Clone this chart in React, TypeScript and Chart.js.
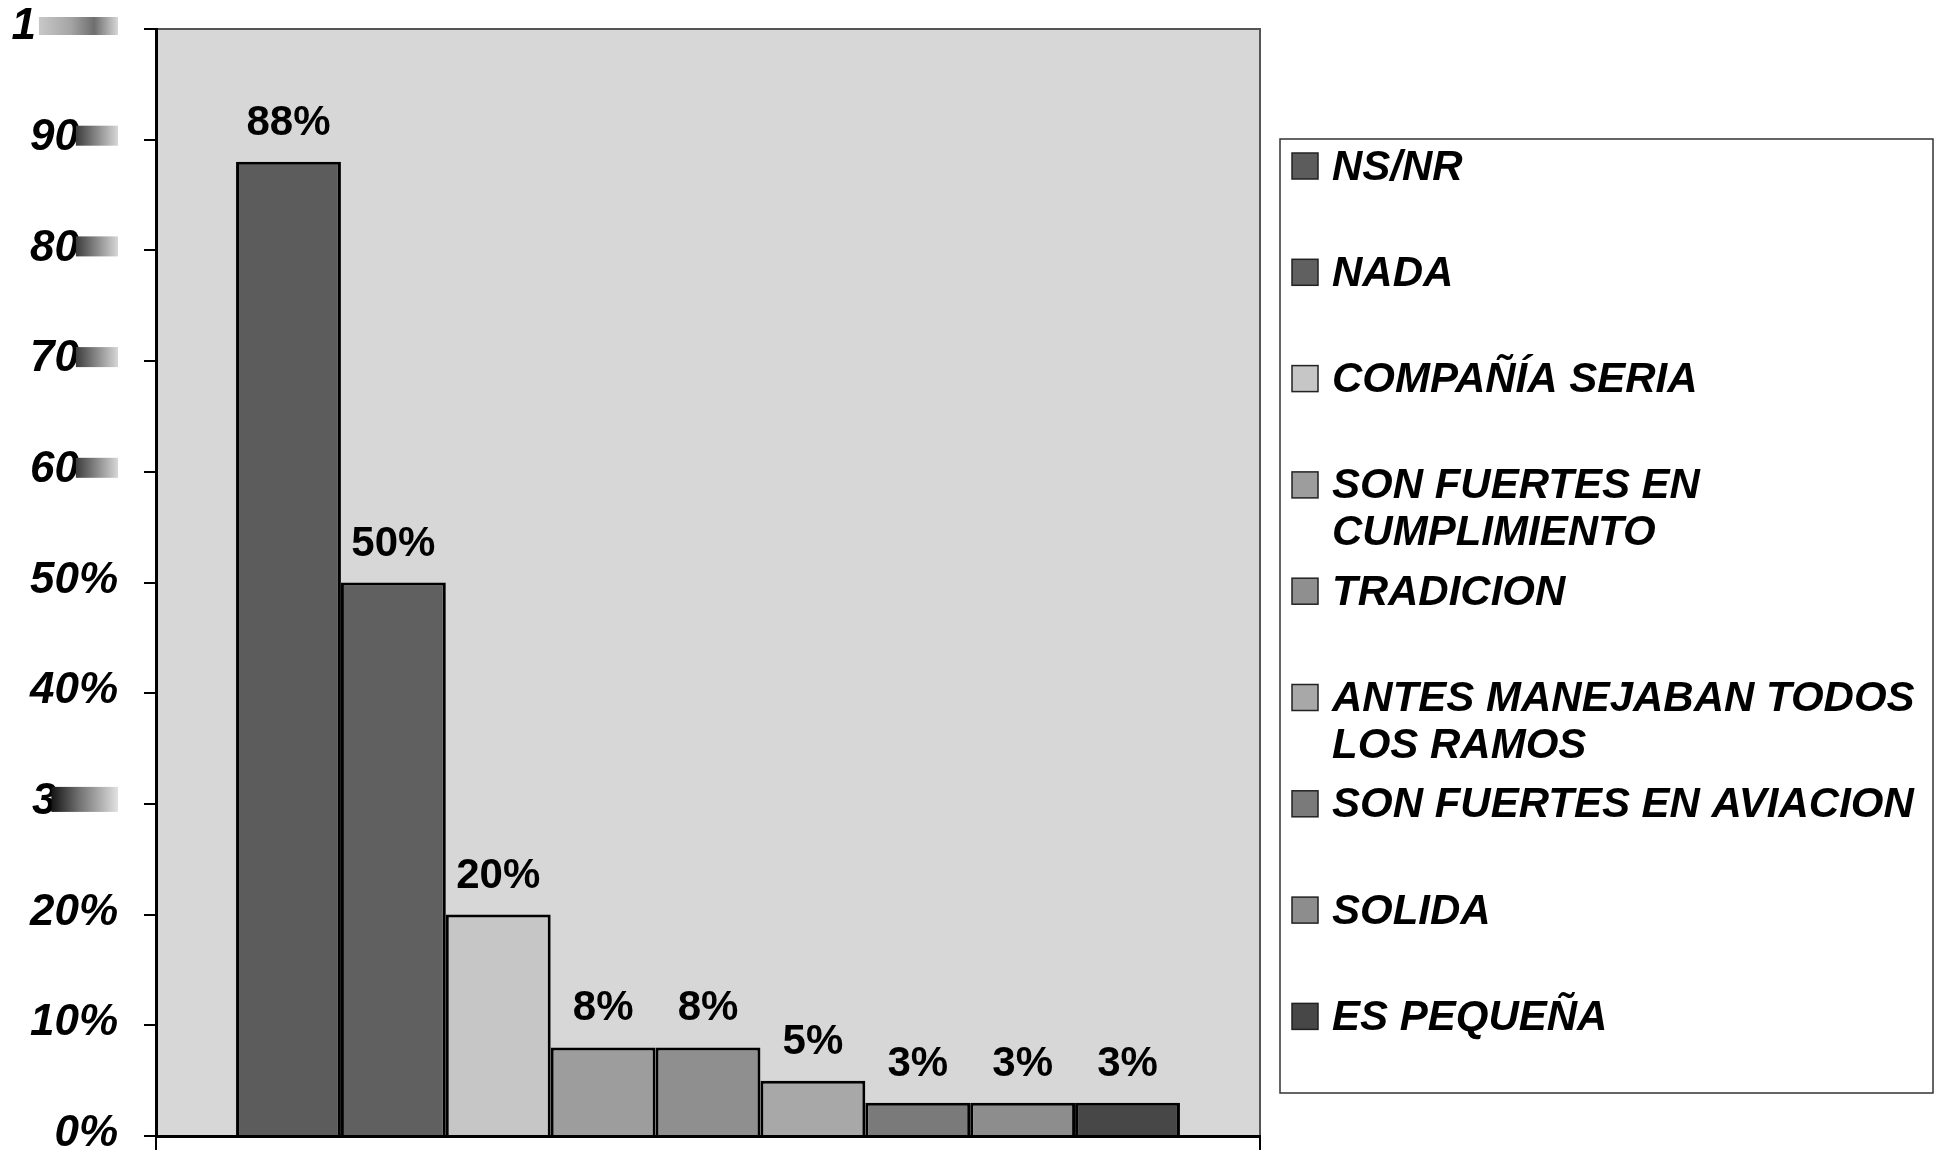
import React, { useEffect, useRef } from "react";
import { Chart, registerables } from "chart.js";

Chart.register(...registerables);

// ---------------- data ----------------
const categories = [""];
const seriesNames = [
  "NS/NR",
  "NADA",
  "COMPAÑÍA SERIA",
  "SON FUERTES EN CUMPLIMIENTO",
  "TRADICION",
  "ANTES MANEJABAN TODOS LOS RAMOS",
  "SON FUERTES EN AVIACION",
  "SOLIDA",
  "ES PEQUEÑA",
];
const seriesValues = [88, 50, 20, 8, 8, 5, 3, 3, 3];
const yTickValues = [0, 10, 20, 30, 40, 50, 60, 70, 80, 90, 100];
const yTickFullLabels = ["0%", "10%", "20%", "30%", "40%", "50%", "60%", "70%", "80%", "90%", "100%"];
// what is legible of each tick label in the picture (the rest is smudged)
const yTickShown = ["0%", "10%", "20%", "3", "40%", "50%", "60", "70", "80", "90", "1"];

// ---------------- styles ----------------
const seriesColors = [
  "#5c5c5c",
  "#606060",
  "#c6c6c6",
  "#9d9d9d",
  "#8f8f8f",
  "#a8a8a8",
  "#7a7a7a",
  "#8d8d8d",
  "#474747",
];
const FONT = '"Liberation Sans", Arial, Helvetica, sans-serif';
const W = 1948;
const H = 1153;
const PLOT = { left: 156, right: 1260, top: 29, bottom: 1136 };
const TICK_LABEL_RIGHT = 118;
const LEGEND_BOX = { left: 1280, top: 139, right: 1933, bottom: 1093 };
const LEGEND_FIRST_Y = 166;
const LEGEND_STEP = 106.3;
const LEGEND_LINE = 47;
const LEGEND_SWATCH_X = 1292;
const LEGEND_SWATCH = 26;
const LEGEND_TEXT_X = 1332;

type Smudge = { up: number; down: number; gap: number; shift: number; stops: [number, string][] };
const SMUDGE_DARK: Smudge = {
  up: 14,
  down: 6,
  gap: -3,
  shift: 0,
  stops: [
    [0, "rgba(60,60,60,1)"],
    [0.45, "rgba(130,130,130,1)"],
    [1, "rgba(215,215,215,1)"],
  ],
};
const SMUDGES: Record<number, Smudge> = {
  100: {
    up: 12,
    down: 6,
    gap: 3,
    shift: 6,
    stops: [
      [0, "rgba(200,200,200,1)"],
      [0.4, "rgba(165,165,165,1)"],
      [0.7, "rgba(110,110,110,1)"],
      [1, "rgba(215,215,215,1)"],
    ],
  },
  90: SMUDGE_DARK,
  80: SMUDGE_DARK,
  70: SMUDGE_DARK,
  60: SMUDGE_DARK,
  30: {
    up: 17,
    down: 8,
    gap: -5,
    shift: 2,
    stops: [
      [0, "rgba(20,20,20,1)"],
      [0.4, "rgba(110,110,110,1)"],
      [1, "rgba(225,225,225,1)"],
    ],
  },
};

// ---------------- plugins ----------------
const plotBackground = {
  id: "plotBackground",
  beforeDraw(chart: any) {
    const { ctx, chartArea: a } = chart;
    ctx.save();
    ctx.fillStyle = "#d7d7d7";
    ctx.fillRect(a.left, a.top, a.right - a.left, a.bottom - a.top);
    ctx.strokeStyle = "#555";
    ctx.lineWidth = 2;
    ctx.beginPath();
    ctx.moveTo(a.left, a.top);
    ctx.lineTo(a.right, a.top);
    ctx.lineTo(a.right, a.bottom);
    ctx.stroke();
    ctx.restore();
  },
};

const valueLabels = {
  id: "valueLabels",
  afterDatasetsDraw(chart: any) {
    const { ctx } = chart;
    ctx.save();
    ctx.font = `bold 42px ${FONT}`;
    ctx.fillStyle = "#000";
    ctx.textAlign = "center";
    ctx.textBaseline = "alphabetic";
    chart.data.datasets.forEach((ds: any, i: number) => {
      const meta = chart.getDatasetMeta(i);
      const bar = meta.data[0];
      if (!bar) return;
      ctx.fillText(`${ds.data[0]}%`, bar.x, bar.y - 27);
    });
    ctx.restore();
  },
};

const yLabels = {
  id: "yLabels",
  afterDraw(chart: any) {
    const { ctx } = chart;
    const y = chart.scales.y;
    ctx.save();
    ctx.font = `italic bold 44px ${FONT}`;
    ctx.fillStyle = "#000";
    ctx.textAlign = "left";
    ctx.textBaseline = "middle";
    yTickValues.forEach((v, i) => {
      const py = y.getPixelForValue(v);
      const full = yTickFullLabels[i];
      const shown = yTickShown[i];
      const sm = SMUDGES[v];
      const x0 = TICK_LABEL_RIGHT - ctx.measureText(full).width + (sm ? sm.shift : 0);
      ctx.fillText(shown, x0, py - 2);
      if (sm) {
        const sx = x0 + ctx.measureText(shown).width + sm.gap;
        const g = ctx.createLinearGradient(sx, 0, TICK_LABEL_RIGHT, 0);
        sm.stops.forEach(([o, c]) => g.addColorStop(o, c));
        ctx.fillStyle = g;
        ctx.fillRect(sx, py - sm.up, TICK_LABEL_RIGHT - sx, sm.up + sm.down);
        ctx.fillStyle = "#000";
      }
    });
    ctx.restore();
  },
};

function wrapWords(ctx: CanvasRenderingContext2D, text: string, maxW: number): string[] {
  const words = text.split(" ");
  const lines: string[] = [];
  let cur = "";
  words.forEach((w) => {
    const test = cur ? `${cur} ${w}` : w;
    if (cur && ctx.measureText(test).width > maxW) {
      lines.push(cur);
      cur = w;
    } else {
      cur = test;
    }
  });
  if (cur) lines.push(cur);
  return lines;
}

const sideLegend = {
  id: "sideLegend",
  afterDraw(chart: any) {
    const { ctx } = chart;
    ctx.save();
    ctx.strokeStyle = "#333";
    ctx.lineWidth = 1.5;
    ctx.strokeRect(
      LEGEND_BOX.left,
      LEGEND_BOX.top,
      LEGEND_BOX.right - LEGEND_BOX.left,
      LEGEND_BOX.bottom - LEGEND_BOX.top
    );
    ctx.font = `italic bold 42px ${FONT}`;
    ctx.textAlign = "left";
    ctx.textBaseline = "middle";
    const maxW = LEGEND_BOX.right - LEGEND_TEXT_X - 4;
    chart.data.datasets.forEach((ds: any, i: number) => {
      const cy = LEGEND_FIRST_Y + i * LEGEND_STEP;
      ctx.fillStyle = ds.backgroundColor;
      ctx.fillRect(LEGEND_SWATCH_X, cy - LEGEND_SWATCH / 2, LEGEND_SWATCH, LEGEND_SWATCH);
      ctx.strokeStyle = "#222";
      ctx.lineWidth = 1.5;
      ctx.strokeRect(LEGEND_SWATCH_X, cy - LEGEND_SWATCH / 2, LEGEND_SWATCH, LEGEND_SWATCH);
      ctx.fillStyle = "#000";
      const lines = wrapWords(ctx, ds.label, maxW);
      lines.forEach((ln, k) => {
        ctx.fillText(ln, LEGEND_TEXT_X, cy + 2 + k * LEGEND_LINE);
      });
    });
    ctx.restore();
  },
};

export default function App() {
  const ref = useRef<HTMLCanvasElement | null>(null);

  useEffect(() => {
    if (!ref.current) return;
    const chart = new Chart(ref.current, {
      type: "bar",
      data: {
        labels: categories,
        datasets: seriesNames.map((name, i) => ({
          label: name,
          data: [seriesValues[i]],
          backgroundColor: seriesColors[i],
          borderColor: "#000",
          borderWidth: 3,
          borderSkipped: "start",
          categoryPercentage: 0.855,
          barPercentage: 1,
        })),
      },
      options: {
        responsive: false,
        animation: false,
        devicePixelRatio: 1,
        layout: {
          padding: { left: 0, top: PLOT.top, right: W - PLOT.right, bottom: 0 },
        },
        plugins: {
          legend: { display: false },
          tooltip: { enabled: false },
        },
        scales: {
          x: {
            ticks: { display: false },
            grid: {
              display: true,
              drawOnChartArea: false,
              drawTicks: true,
              tickLength: 14,
              color: "#000",
              lineWidth: 2,
              offset: true,
            },
            border: { display: true, color: "#000", width: 3 },
            afterFit: (s: any) => {
              s.height = H - PLOT.bottom;
            },
          },
          y: {
            min: 0,
            max: 100,
            ticks: { display: false, stepSize: 10 },
            grid: {
              display: true,
              drawOnChartArea: false,
              drawTicks: true,
              tickLength: 12,
              color: "#000",
              lineWidth: 2,
            },
            border: { display: true, color: "#000", width: 3 },
            afterFit: (s: any) => {
              s.width = PLOT.left;
            },
          },
        },
      } as any,
      plugins: [plotBackground, valueLabels, yLabels, sideLegend],
    });
    return () => chart.destroy();
  }, []);

  return (
    <div
      style={{
        position: "absolute",
        left: 0,
        top: 0,
        width: W,
        height: H,
        background: "#fff",
      }}
    >
      <canvas ref={ref} width={W} height={H} style={{ display: "block", width: W, height: H }} />
    </div>
  );
}
